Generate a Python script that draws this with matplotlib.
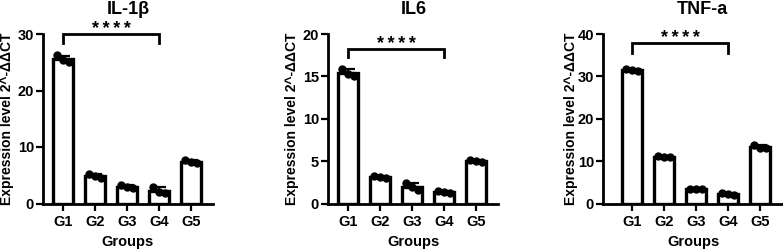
import numpy as np
import matplotlib
matplotlib.use("Agg")
import matplotlib.pyplot as plt

plt.rcParams['font.family'] = ['Liberation Sans', 'DejaVu Sans']
plt.rcParams['font.weight'] = 'bold'

groups = ['G1', 'G2', 'G3', 'G4', 'G5']

# three replicates per group
il1b = [[26.2, 25.4, 25.0], [5.2, 4.9, 4.6], [3.2, 3.0, 2.8], [3.0, 2.0, 1.9], [7.7, 7.4, 7.2]]
il6 = [[15.9, 15.3, 15.1], [3.3, 3.1, 3.0], [2.4, 1.9, 1.6], [1.5, 1.3, 1.2], [5.1, 5.0, 4.9]]
tnfa = [[31.8, 31.6, 31.2], [11.1, 11.0, 10.9], [3.5, 3.5, 3.4], [2.4, 2.2, 2.0], [13.9, 13.2, 13.0]]

titles = ['IL-1β', 'IL6', 'TNF-a']
ylims = [30, 20, 40]
yticks = [[0, 10, 20, 30], [0, 5, 10, 15, 20], [0, 10, 20, 30, 40]]
brackets = [(30.0, 1.6), (18.2, 0.9), (37.9, 2.3)]

fig = plt.figure(figsize=(7.83, 2.5), dpi=100)

# axes boxes in pixels (left, right), same bottom/top
boxes = [(43, 213), (328, 498), (603, 783)]
first_offsets = [20, 20, 29]  # px from y axis to G1 centre
ylabel_edge = [14, 299, 578]  # px, anchor of the rotated y label
spacing = 32.0

for i, data in enumerate([il1b, il6, tnfa]):
    l, r = boxes[i]
    ax = fig.add_axes([l / 783, 1 - 203.5 / 250, (r - l) / 783, (203.5 - 34) / 250])
    x = np.arange(len(groups))
    vals = np.array(data)
    means = vals.mean(axis=1)
    sds = vals.std(axis=1, ddof=1)

    ax.bar(x, means, width=0.62, color='white', edgecolor='black', linewidth=2.4, zorder=2)
    ax.errorbar(x, means, yerr=[np.zeros_like(sds), sds], fmt='none', ecolor='black',
                elinewidth=1.6, capsize=5, capthick=1.6, zorder=3)
    for j in range(len(groups)):
        ax.plot(x[j] + np.array([-0.18, 0.0, 0.18]), vals[j], 'o', color='black',
                markersize=5, zorder=4, clip_on=False)

    x0 = -first_offsets[i] / spacing
    ax.set_xlim(x0, x0 + (r - l) / spacing)
    ax.set_ylim(0, ylims[i])
    ax.set_yticks(yticks[i])
    ax.set_xticks(x)
    ax.set_xticklabels(groups)
    ax.tick_params(axis='both', labelsize=10.5, width=1.6, length=5, direction='out')
    ax.tick_params(axis='y', pad=1.5)
    for s in ['top', 'right']:
        ax.spines[s].set_visible(False)
    for s in ['left', 'bottom']:
        ax.spines[s].set_linewidth(2.0)
    ax.set_xlabel('Groups', fontsize=10.5, fontweight='bold', labelpad=4)
    ax.set_ylabel('Expression level 2^-ΔΔCT', fontsize=10, fontweight='bold')
    ax.yaxis.set_label_coords((ylabel_edge[i] - l) / (r - l), 0.5)

    # significance bracket G1 vs G4
    by, drop = brackets[i]
    ax.plot([0, 0, 3, 3], [by - drop, by, by, by - drop], color='black', linewidth=2.0,
            clip_on=False, solid_joinstyle='miter')
    ax.text(1.5, by, '*\u2009*\u2009*\u2009*', ha='center', va='baseline', fontsize=13,
            fontweight='bold')

    tx = (128, 414, 702)[i]
    fig.text(tx / 783, 1 - 9 / 250, titles[i], ha='center', va='center', fontsize=13,
             fontweight='bold')

fig.savefig('out.png', dpi=100)
